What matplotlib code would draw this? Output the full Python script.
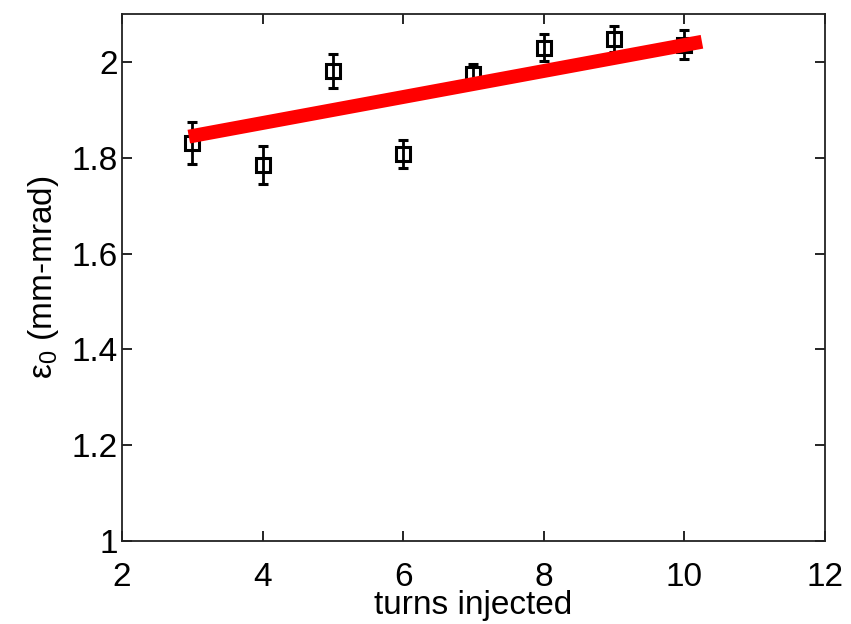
import numpy as np
import matplotlib
matplotlib.use("Agg")
import matplotlib.pyplot as plt

# data
turns = [3, 4, 5, 6, 7, 8, 9, 10]
emit = [1.830, 1.785, 1.981, 1.808, 1.975, 2.030, 2.048, 2.036]
emit_err = [0.044, 0.040, 0.035, 0.029, 0.020, 0.029, 0.027, 0.030]

fit_x = [2.95, 10.25]
fit_y = [1.844, 2.042]

xticks = [2, 4, 6, 8, 10, 12]
yticks = [1, 1.2, 1.4, 1.6, 1.8, 2]

plt.rcParams['font.family'] = ['Liberation Sans', 'DejaVu Sans']
plt.rcParams['mathtext.fontset'] = 'custom'
plt.rcParams['mathtext.rm'] = 'Liberation Sans'

fig = plt.figure(figsize=(8.51, 6.24), dpi=100)
ax = fig.add_axes([0.1434, 0.133, 0.826, 0.8446])

ax.errorbar(turns, emit, yerr=emit_err, fmt='s', color='k', mfc='none',
            mec='k', ms=10.5, mew=2.2, elinewidth=2, capsize=3.5, capthick=2, zorder=2)
ax.plot(fit_x, fit_y, color='red', lw=10, solid_capstyle='butt', zorder=3)

ax.set_xlim(2, 12)
ax.set_ylim(1, 2.1)
ax.set_xticks(xticks)
ax.set_yticks(yticks)
ax.set_xticklabels([str(t) for t in xticks])
ax.set_yticklabels(['1', '1.2', '1.4', '1.6', '1.8', '2'])

ax.tick_params(direction='in', top=True, right=True, length=7, width=1.2,
               labelsize=24)
ax.tick_params(axis='x', pad=15)
ax.tick_params(axis='y', pad=3)
for s in ax.spines.values():
    s.set_linewidth(1.3)
    s.set_color('#222222')

ax.set_xlabel('turns injected', fontsize=24, labelpad=-2)
ax.set_ylabel('ε$_\\mathrm{0}$ (mm-mrad)', fontsize=24, labelpad=8)

fig.savefig('out.png', dpi=100)
